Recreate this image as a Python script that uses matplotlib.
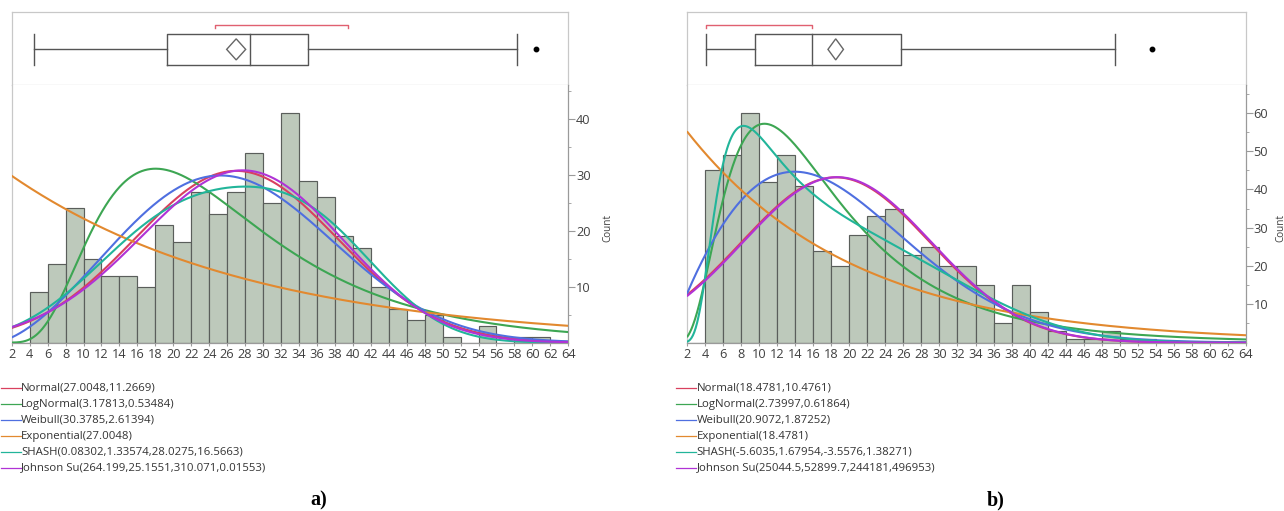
import numpy as np
import matplotlib
matplotlib.use("Agg")
import matplotlib.pyplot as plt
from matplotlib.lines import Line2D
from matplotlib.patches import Polygon

# ---------------- data ----------------
bin_edges = list(range(2, 66, 2))  # 2 .. 64, bin width 2

counts_a = [0, 9, 14, 24, 15, 12, 12, 10, 21, 18, 27, 23, 27, 34, 25, 41,
            29, 26, 19, 17, 10, 6, 4, 5, 1, 0, 3, 0, 1, 1, 0]
counts_b = [0, 45, 49, 60, 42, 49, 41, 24, 20, 28, 33, 35, 23, 25, 20, 20,
            15, 5, 15, 8, 3, 1, 1, 3, 1, 1, 0, 0, 0, 0, 0]

# fitted distribution parameters (from legends)
normal_a = (27.0048, 11.2669)
lognormal_a = (3.17813, 0.53484)
weibull_a = (30.3785, 2.61394)
exponential_a = (27.0048,)
shash_a = (0.08302, 1.33574, 28.0275, 16.5663)
johnson_a = (264.199, 25.1551, 310.071, 0.01553)

normal_b = (18.4781, 10.4761)
lognormal_b = (2.73997, 0.61864)
weibull_b = (20.9072, 1.87252)
exponential_b = (18.4781,)
shash_b = (-5.6035, 1.67954, -3.5576, 1.38271)
johnson_b = (25044.5, 52899.7, 244181, 496953)

legend_a = ["Normal(27.0048,11.2669)", "LogNormal(3.17813,0.53484)",
            "Weibull(30.3785,2.61394)", "Exponential(27.0048)",
            "SHASH(0.08302,1.33574,28.0275,16.5663)",
            "Johnson Su(264.199,25.1551,310.071,0.01553)"]
legend_b = ["Normal(18.4781,10.4761)", "LogNormal(2.73997,0.61864)",
            "Weibull(20.9072,1.87252)", "Exponential(18.4781)",
            "SHASH(-5.6035,1.67954,-3.5576,1.38271)",
            "Johnson Su(25044.5,52899.7,244181,496953)"]

# box plot summaries: whisker low, Q1, median, Q3, whisker high
box_a = [4.5, 19.3, 28.5, 35.0, 58.3]
outliers_a = [60.4]
mean_a = 27.0048
mean_ci_a = 1.06
short_half_a = [24.6, 39.5]

box_b = [4.1, 9.5, 15.9, 25.7, 49.5]
outliers_b = [53.6]
mean_b = 18.4781
mean_ci_b = 0.86
short_half_b = [4.1, 15.9]

x_ticks = list(range(2, 66, 2))
y_ticks_a = [10, 20, 30, 40]
y_ticks_b = [10, 20, 30, 40, 50, 60]

colors = ["#d9405f", "#3da653", "#4f6fe0", "#e2892f", "#22b59a", "#b033d6"]


# ---------------- density functions ----------------
def pdf_normal(x, mu, s):
    return np.exp(-0.5 * ((x - mu) / s) ** 2) / (s * np.sqrt(2 * np.pi))


def pdf_lognormal(x, mu, s):
    return np.exp(-((np.log(x) - mu) ** 2) / (2 * s * s)) / (x * s * np.sqrt(2 * np.pi))


def pdf_weibull(x, a, b):
    return (b / a) * (x / a) ** (b - 1) * np.exp(-(x / a) ** b)


def pdf_expon(x, th):
    return np.exp(-x / th) / th


def pdf_shash(x, g, d, th, s):
    z = (x - th) / s
    w = g + d * np.arcsinh(z)
    return d * np.cosh(w) * np.exp(-np.sinh(w) ** 2 / 2) / (np.sqrt(2 * np.pi) * np.sqrt(s * s + (x - th) ** 2))


def pdf_johnson(x, g, d, th, s):
    u = (x - th) / s
    z = g + d * np.arcsinh(u)
    return d / (s * np.sqrt(2 * np.pi) * np.sqrt(1 + u * u)) * np.exp(-z * z / 2)


# ---------------- figure ----------------
W, H = 1284, 511
fig = plt.figure(figsize=(W / 100, H / 100), dpi=100)
FONT = "Open Sans"
GRID = "#c8c8c8"
AX = "#9a9a9a"
TXT = "#404040"


def fx(px):
    return px / W


def fy(py):
    return 1 - py / H


def panel(x0, x1, counts, params, box, outl, mean, mci, shalf, yticks, ylim,
          legend, lab, lab_x, count_x):
    top_box, div, base = 12.3, 85.0, 342.6
    axb = fig.add_axes([fx(x0), fy(div), fx(x1 - x0), (div - top_box) / H])
    axh = fig.add_axes([fx(x0), fy(base), fx(x1 - x0), (base - div) / H])

    # ---- histogram ----
    edges = np.array(bin_edges, dtype=float)
    axh.bar(edges[:-1], counts, width=2, align="edge", color="#bdc9bb",
            edgecolor="#5a5e5b", linewidth=0.85, zorder=2)
    n = sum(counts)
    xs = np.linspace(2.0, 64.0, 800)
    funcs = [pdf_normal, pdf_lognormal, pdf_weibull, pdf_expon, pdf_shash, pdf_johnson]
    for f, p, c in zip(funcs, params, colors):
        axh.plot(xs, n * 2 * f(xs, *p), color=c, lw=1.5, zorder=3,
                 solid_capstyle="round")
    axh.set_xlim(2, 64)
    axh.set_ylim(0, ylim)
    axh.yaxis.tick_right()
    axh.set_yticks(yticks)
    axh.set_yticks([t - 5 for t in yticks] + [yticks[-1] + 5], minor=True)
    axh.set_xticks(x_ticks)
    axh.tick_params(axis="x", length=2, color=AX, labelsize=9.2, labelcolor=TXT,
                    pad=2)
    axh.tick_params(axis="y", which="major", length=5, color=AX, labelsize=9.2,
                    labelcolor=TXT, pad=0.5, direction="out")
    axh.tick_params(axis="y", which="minor", length=2.5, color=AX)
    for t in axh.get_xticklabels() + axh.get_yticklabels():
        t.set_fontfamily(FONT)
    axh.spines["top"].set_visible(False)
    axh.spines["left"].set_color(GRID)
    axh.spines["right"].set_color(AX)
    axh.spines["bottom"].set_color(AX)
    for s in axh.spines.values():
        s.set_linewidth(0.9)
    fig.text(fx(count_x), fy(228), "Count", rotation=90, ha="center",
             va="center", fontsize=7.2, color=TXT, family=FONT)

    # ---- box plot ----
    axb.set_xlim(2, 64)
    axb.set_ylim(0, 1)
    axb.set_xticks([])
    axb.set_yticks([])
    for s in axb.spines.values():
        s.set_color(GRID)
        s.set_linewidth(0.9)
    yc, hh = 0.49, 0.213
    lo, q1, med, q3, hi = box
    bc = "#555555"
    axb.plot([q1, q3, q3, q1, q1], [yc - hh, yc - hh, yc + hh, yc + hh, yc - hh],
             color=bc, lw=1.0)
    axb.plot([med, med], [yc - hh, yc + hh], color=bc, lw=1.0)
    axb.plot([lo, q1], [yc, yc], color=bc, lw=1.0)
    axb.plot([q3, hi], [yc, yc], color=bc, lw=1.0)
    axb.plot([lo, lo], [yc - hh, yc + hh], color=bc, lw=1.0)
    axb.plot([hi, hi], [yc - hh, yc + hh], color=bc, lw=1.0)
    axb.plot(outl, [yc] * len(outl), "o", color="black", ms=3.2)
    dh = 0.145
    axb.add_patch(Polygon([[mean - mci, yc], [mean, yc + dh], [mean + mci, yc],
                           [mean, yc - dh]], closed=True, fill=False,
                          edgecolor="#666666", lw=1.0))
    by = 0.825
    axb.plot([shalf[0], shalf[0], shalf[1], shalf[1]],
             [by - 0.04, by, by, by - 0.04], color="#e06070", lw=1.0)

    # ---- legend ----
    rows = [388.3, 404.2, 420.1, 436.0, 451.9, 467.8]
    for txt, c, yy in zip(legend, colors, rows):
        fig.add_artist(Line2D([fx(x0 - 11), fx(x0 + 9)], [fy(yy), fy(yy)],
                              color=c, lw=0.9, transform=fig.transFigure))
        fig.text(fx(x0 + 9.3), fy(yy), txt, ha="left", va="center",
                 fontsize=8.2, color="#333333", family=FONT)
    fig.text(fx(lab_x), fy(500), lab, ha="center", va="center", fontsize=14.5,
             fontweight="bold", family="Liberation Serif", color="black")


panel(11.7, 568.3, counts_a,
      [normal_a, lognormal_a, weibull_a, exponential_a, shash_a, johnson_a],
      box_a, outliers_a, mean_a, mean_ci_a, short_half_a, y_ticks_a, 46.1,
      legend_a, "a)", 319, 608)
panel(687.3, 1245.7, counts_b,
      [normal_b, lognormal_b, weibull_b, exponential_b, shash_b, johnson_b],
      box_b, outliers_b, mean_b, mean_ci_b, short_half_b, y_ticks_b, 67.3,
      legend_b, "b)", 996, 1281)

fig.savefig("out.png", dpi=100)
